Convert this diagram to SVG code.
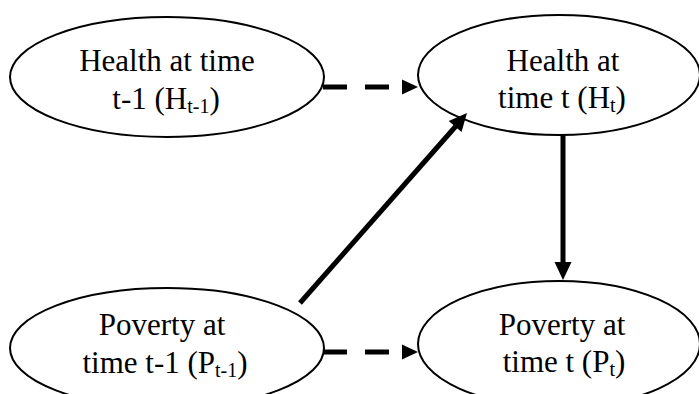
<svg xmlns="http://www.w3.org/2000/svg" width="699" height="394" viewBox="0 0 699 394">
<style>
.node ellipse{fill:#fff;stroke:#000;stroke-width:2}
.node text{font-family:"Liberation Serif","Times New Roman",serif;font-size:31px;fill:#000;text-anchor:middle}
.sub{font-size:20px}
.conn line{stroke:#000;stroke-width:5}
.dash{stroke-dasharray:24 18}
.conn polygon{fill:#000}
</style>
<rect width="699" height="394" fill="#fff"/>
<g id="H_prev" class="node">
<ellipse cx="167" cy="77" rx="157" ry="60"/>
<text x="167" y="71">Health at time</text>
<text x="166" y="109">t-1 (H<tspan class="sub" dy="4">t-1</tspan><tspan dy="-4">)</tspan></text>
</g>
<g id="H_t" class="node">
<ellipse cx="559" cy="75" rx="141" ry="60"/>
<text x="563" y="71">Health at</text>
<text x="562" y="108">time t (H<tspan class="sub" dy="4">t</tspan><tspan dy="-4">)</tspan></text>
</g>
<g id="P_prev" class="node">
<ellipse cx="167" cy="348" rx="157" ry="60"/>
<text x="162" y="335">Poverty at</text>
<text x="165" y="373">time t-1 (P<tspan class="sub" dy="4">t-1</tspan><tspan dy="-4">)</tspan></text>
</g>
<g id="P_t" class="node">
<ellipse cx="559" cy="344" rx="141" ry="63"/>
<text x="562" y="335">Poverty at</text>
<text x="564" y="372">time t (P<tspan class="sub" dy="4">t</tspan><tspan dy="-4">)</tspan></text>
</g>
<g id="connectors" class="conn">
<line class="dash" x1="323" y1="87" x2="400" y2="87"/>
<polygon points="402,79.5 402,94.5 418,87"/>
<line class="dash" x1="323" y1="352" x2="400" y2="352"/>
<polygon points="402,344.5 402,359.5 418,352"/>
<line x1="563" y1="135" x2="563" y2="263"/>
<polygon points="554.5,262 571.5,262 563,280"/>
<line x1="300" y1="303" x2="456" y2="126"/>
<polygon points="467,113 461.5,132.1 448.7,120.9"/>
</g>
</svg>
